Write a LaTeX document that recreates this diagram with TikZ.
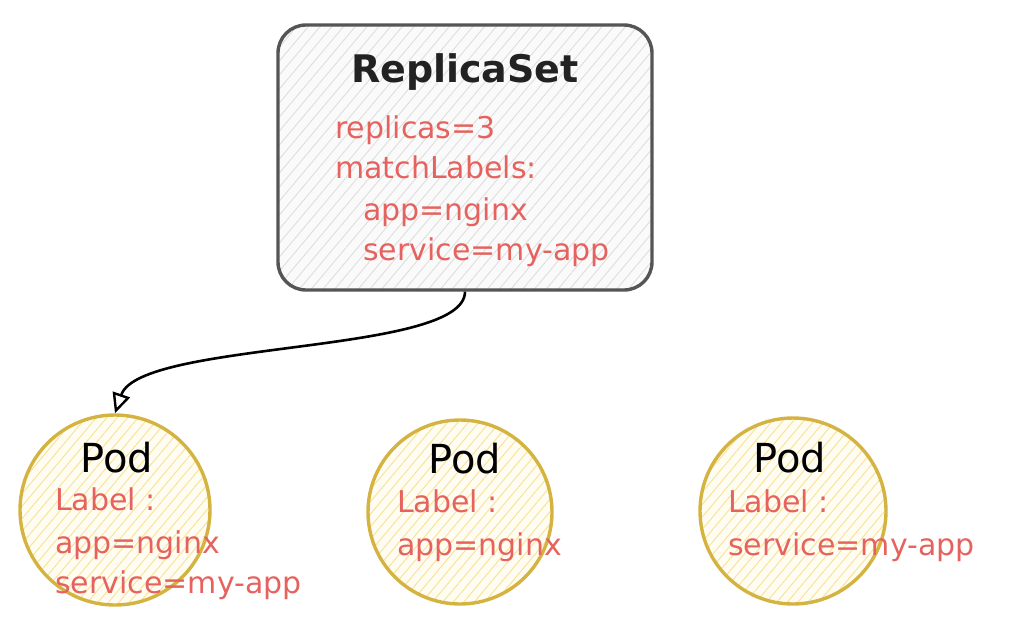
\documentclass[tikz,border=0pt]{standalone}
\usepackage{fontspec}
\setmainfont{DejaVu Sans}
\usetikzlibrary{arrows.meta,patterns.meta}
\definecolor{redtxt}{HTML}{E5625E}
\definecolor{boxline}{HTML}{555555}
\definecolor{boxfill}{HTML}{FAFAFA}
\definecolor{boxhatch}{HTML}{DEDEDE}
\definecolor{podline}{HTML}{D4B340}
\definecolor{podfill}{HTML}{FFFDF2}
\definecolor{podhatch}{HTML}{F8E196}
\definecolor{titlecol}{HTML}{222222}
\begin{document}
\begin{tikzpicture}[x=1pt,y=-1pt,
  rsbox/.style={draw=boxline, line width=3.4pt, rounded corners=28pt,
    preaction={fill=boxfill},
    preaction={pattern={Lines[angle=50,distance=9pt,line width=0.9pt]}, pattern color=boxhatch},
    minimum width=374pt, minimum height=265pt, inner sep=0pt},
  podshape/.style={circle, draw=podline, line width=3.4pt,
    preaction={fill=podfill},
    preaction={pattern={Lines[angle=50,distance=8pt,line width=0.9pt]}, pattern color=podhatch},
    inner sep=0pt},
  redtext/.style={text=redtxt, font=\fontsize{30}{36}\selectfont, inner sep=0pt, anchor=base west},
  podtitle/.style={text=black, font=\fontsize{40}{44}\selectfont, inner sep=0pt, anchor=base},
  rstitle/.style={text=titlecol, font=\bfseries\fontsize{38}{42}\selectfont, inner sep=0pt, anchor=base},
  link/.style={draw=black, line width=2.6pt, -{Triangle[open,length=20pt,width=18pt,line width=2.4pt]}}
]
\useasboundingbox (0,0) rectangle (1024,632);

% ReplicaSet box
\node[rsbox] (rs) at (465,157.5) {};
\node[rstitle] (rstitle) at (465,82) {ReplicaSet};
\node[redtext] (rep) at (335,138) {replicas=3};
\node[redtext] (ml) at (335,178) {matchLabels:};
\node[redtext] (mlapp) at (363,220) {app=nginx};
\node[redtext] (mlsvc) at (363,260) {service=my-app};

% Pods
\node[podshape, minimum size=190pt] (pod1) at (115,510) {};
\node[podshape, minimum size=184pt] (pod2) at (460,512) {};
\node[podshape, minimum size=186pt] (pod3) at (793,511) {};

\node[podtitle] (p1t) at (117,472) {Pod};
\node[redtext] (p1l) at (55,510) {Label :};
\node[redtext] (p1a) at (55,553) {app=nginx};
\node[redtext] (p1s) at (55,593) {service=my-app};

\node[podtitle] (p2t) at (465,473) {Pod};
\node[redtext] (p2l) at (397,512) {Label :};
\node[redtext] (p2a) at (397,555) {app=nginx};

\node[podtitle] (p3t) at (790,472) {Pod};
\node[redtext] (p3l) at (728,512) {Label :};
\node[redtext] (p3s) at (728,555) {service=my-app};

% Arrow
\draw[link] (rs.south) .. controls (465,355) and (140,340) .. (pod1.north);
\end{tikzpicture}
\end{document}
